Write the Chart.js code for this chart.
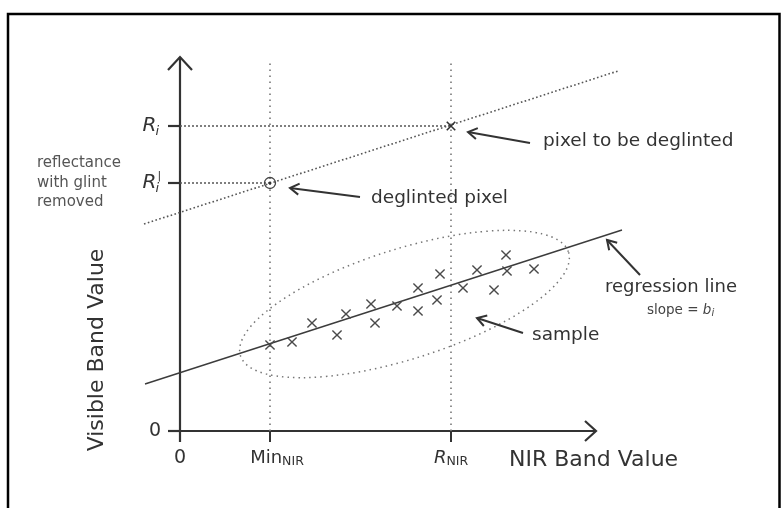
<!DOCTYPE html>
<html><head><meta charset="utf-8">
<script src="https://cdn.jsdelivr.net/npm/chart.js@4"></script>
<style>html,body{margin:0;padding:0;background:#fff}#wrap{width:781px;height:508px}</style>
</head><body><div id="wrap"><canvas id="c" width="781" height="508"></canvas></div>
<script>
// ---- data (x = NIR band value, y = visible band value; origin of axes at 0,0) ----
const sampleNIR = [90,112,132,157,166,191,195,217,238,238,257,260,283,297,314,326,327,354];
const sampleVis = [86,89,108,96,117,127,108,125,143,120,131,157,143,161,141,176,160,162];
const minNIR = 90;
const rNIR = 271;
const Ri = 305;
const RiPrime = 248;
const regressionNIR = [-35, 442];
const regressionVis = [47, 201];
const glintNIR = [-36, 438];
const glintVis = [207, 360];
const xTickValues = [0, minNIR, rNIR];
const xTickLabels = [['0',''],['Min','NIR'],['R','NIR']];
const yTickValues = [0, RiPrime, Ri];
const yTickLabels = ['0','Ri\'','Ri'];

// ---- layout constants (data units) ----
const X_MIN=-180, X_MAX=601, Y_MIN=-77, Y_MAX=431;
const Y_AXIS_TOP=374, X_AXIS_END=416, TICK=11, GUIDE_TOP=368;

const INK='#333', GREY='#555';
function seg(x0,y0,x1,y1,opts){
  return Object.assign({type:'scatter',showLine:true,data:[{x:x0,y:y0},{x:x1,y:y1}],
    pointRadius:0,borderColor:INK,borderWidth:2,fill:false,tension:0,clip:false},opts||{});
}
const datasets=[];
// sample points
datasets.push({data:sampleNIR.map((x,i)=>({x,y:sampleVis[i]})),pointStyle:'crossRot',
  pointRadius:6.5,borderColor:'#4a4a4a',borderWidth:1.4,showLine:false});
// pixel to be deglinted
datasets.push({data:[{x:rNIR,y:Ri}],pointStyle:'crossRot',pointRadius:6,borderColor:'#333',borderWidth:1.6,showLine:false});
// deglinted pixel (circle + dot)
datasets.push({data:[{x:minNIR,y:RiPrime}],pointStyle:'circle',pointRadius:5.5,borderColor:'#444',
  backgroundColor:'rgba(255,255,255,0)',borderWidth:1.3,showLine:false});
datasets.push({data:[{x:minNIR,y:RiPrime}],pointStyle:'circle',pointRadius:1.4,borderColor:'#333',
  backgroundColor:'#333',borderWidth:0,showLine:false});
// regression line
datasets.push(seg(regressionNIR[0],regressionVis[0],regressionNIR[1],regressionVis[1],{borderColor:'#3c3c3c',borderWidth:1.4}));
// glint line (dotted)
datasets.push(seg(glintNIR[0],glintVis[0],glintNIR[1],glintVis[1],{borderColor:GREY,borderWidth:1.6,borderDash:[1.6,2.4]}));
// vertical guides
[minNIR,rNIR].forEach(v=>datasets.push(seg(v,0,v,GUIDE_TOP,{borderColor:'#777',borderWidth:1.6,borderDash:[1.6,4.4]})));
// horizontal guides
datasets.push(seg(0,Ri,rNIR,Ri,{borderColor:GREY,borderWidth:1.4,borderDash:[2,2]}));
datasets.push(seg(0,RiPrime,minNIR,RiPrime,{borderColor:GREY,borderWidth:1.4,borderDash:[2,2]}));
// axes
datasets.push(seg(0,-TICK,0,Y_AXIS_TOP,{borderWidth:2.2}));
datasets.push(seg(-TICK,0,X_AXIS_END,0,{borderWidth:2.2}));
// ticks
yTickValues.forEach(v=>datasets.push(seg(-TICK-1,v,0,v,{borderWidth:2.2})));
xTickValues.slice(1).forEach(v=>datasets.push(seg(v,0,v,-TICK,{borderWidth:2})));

// ---- annotations drawn through the scales ----
const ellipse={cx:224.5,cy:127,rx:172,ry:55,angleDeg:17.5};
const arrows=[
  {from:[350,288],to:[288,299]},
  {from:[180,234],to:[110,243]},
  {from:[460,156],to:[427,191]},
  {from:[343,98],to:[297,113]}
];
const F='"DejaVu Sans", sans-serif';
const texts=[
  {t:'pixel to be deglinted',x:363,y:290,size:18.5},
  {t:'deglinted pixel',x:191,y:233,size:18.5},
  {t:'regression line',x:425,y:144,size:18},
  {t:'sample',x:352,y:96,size:18.5},
  {t:'reflectance',x:-143,y:268,size:15,color:'#555'},
  {t:'with glint',x:-143,y:248,size:15,color:'#555'},
  {t:'removed',x:-143,y:229,size:15,color:'#555'},
  {t:'NIR Band Value',x:329,y:-29,size:22}
];

const diagram={id:'diagram',
  beforeDraw(chart){
    const c=chart.ctx; c.save(); c.fillStyle='#fff'; c.fillRect(0,0,chart.width,chart.height);
    c.strokeStyle='#000'; c.lineWidth=2.5; c.beginPath();
    c.moveTo(8,chart.height); c.lineTo(8,14); c.lineTo(779.5,14); c.lineTo(779.5,chart.height); c.stroke(); c.restore();
  },
  afterDatasetsDraw(chart){
    const c=chart.ctx, xs=chart.scales.x, ys=chart.scales.y;
    const px=v=>xs.getPixelForValue(v), py=v=>ys.getPixelForValue(v);
    c.save();
    // ellipse
    c.beginPath();
    c.strokeStyle='#777'; c.lineWidth=1.5; c.setLineDash([1.5,4]);
    c.ellipse(px(ellipse.cx),py(ellipse.cy),px(ellipse.rx)-px(0),py(0)-py(ellipse.ry),-ellipse.angleDeg*Math.PI/180,0,Math.PI*2);
    c.stroke(); c.setLineDash([]);
    // chevron helper
    function chevron(tx,ty,dx,dy,L,W,lw){
      const n=Math.hypot(dx,dy); dx/=n; dy/=n; const nx=-dy, ny=dx;
      c.beginPath(); c.lineWidth=lw; c.strokeStyle=INK; c.lineJoin='miter';
      c.moveTo(tx-dx*L+nx*W,ty-dy*L+ny*W); c.lineTo(tx,ty); c.lineTo(tx-dx*L-nx*W,ty-dy*L-ny*W); c.stroke();
    }
    // axis arrowheads
    chevron(px(0),py(Y_AXIS_TOP),0,-1,13,12,2.2);
    chevron(px(X_AXIS_END),py(0),1,0,11,10,2.2);
    // pointer arrows
    arrows.forEach(a=>{
      const x0=px(a.from[0]),y0=py(a.from[1]),x1=px(a.to[0]),y1=py(a.to[1]);
      c.beginPath(); c.strokeStyle=INK; c.lineWidth=2; c.moveTo(x0,y0); c.lineTo(x1,y1); c.stroke();
      chevron(x1,y1,x1-x0,y1-y0,9,5.5,2);
    });
    // texts
    c.textBaseline='middle';
    texts.forEach(o=>{c.fillStyle=o.color||INK; c.font=o.size+'px '+F; c.textAlign='left'; c.fillText(o.t,px(o.x),py(o.y));});
    // slope = b_i
    {
      let x=px(467), y=py(121); c.fillStyle='#444'; c.font='13.5px '+F; c.textAlign='left';
      c.fillText('slope = ',x,y); x+=c.measureText('slope = ').width;
      c.font='italic 13.5px '+F; c.fillText('b',x,y); x+=c.measureText('b').width;
      c.font='italic 10px '+F; c.fillText('i',x,y+3);
    }
    // Visible Band Value
    c.save(); c.translate(px(-83),py(81)); c.rotate(-Math.PI/2); c.textAlign='center'; c.fillStyle=INK;
    c.font='22px '+F; c.fillText('Visible Band Value',0,0); c.restore();
    // y tick labels
    yTickValues.forEach((v,i)=>{
      const lab=yTickLabels[i], y=py(v), right=px(-20);
      c.textAlign='left';
      if(lab==='0'){c.font='19px '+F; c.fillStyle=INK; c.textAlign='right'; c.fillText('0',right+1,y); return;}
      c.fillStyle=INK;
      c.font='italic 20px '+F; const wR=c.measureText('R').width;
      c.font='italic 13px '+F; const wi=c.measureText('i').width;
      const x0=right-wR-wi;
      c.font='italic 20px '+F; c.fillText('R',x0,y);
      c.font='italic 13px '+F; c.fillText('i',x0+wR-1,y+6);
      if(lab.endsWith("'")){c.font='11px '+F; c.fillText('|',x0+wR+1,y-7);}
    });
    // x tick labels
    xTickValues.forEach((v,i)=>{
      const [m,s]=xTickLabels[i];
      const mainFont=(m==='R'?'italic ':'')+(m==='0'?'19px ':'18px ')+F, subFont='12.5px '+F;
      c.font=mainFont; const wm=c.measureText(m).width;
      c.font=subFont; const ws=s?c.measureText(s).width:0;
      const dx=(m==='Min')?7:0;
      let x=px(v)+dx-(wm+ws)/2, y=py(-27);
      c.textAlign='left'; c.fillStyle=INK;
      c.font=mainFont; c.fillText(m,x,y);
      if(s){c.font=subFont; c.fillText(s,x+wm,y+4);}
    });
    c.restore();
  }
};

new Chart(document.getElementById('c'),{
  type:'scatter',
  data:{datasets},
  options:{responsive:false,animation:false,events:[],
    layout:{padding:0,autoPadding:false},
    plugins:{legend:{display:false},tooltip:{enabled:false}},
    scales:{
      x:{type:'linear',display:false,min:X_MIN,max:X_MAX},
      y:{type:'linear',display:false,min:Y_MIN,max:Y_MAX}
    }
  },
  plugins:[diagram]
});
</script></body></html>
